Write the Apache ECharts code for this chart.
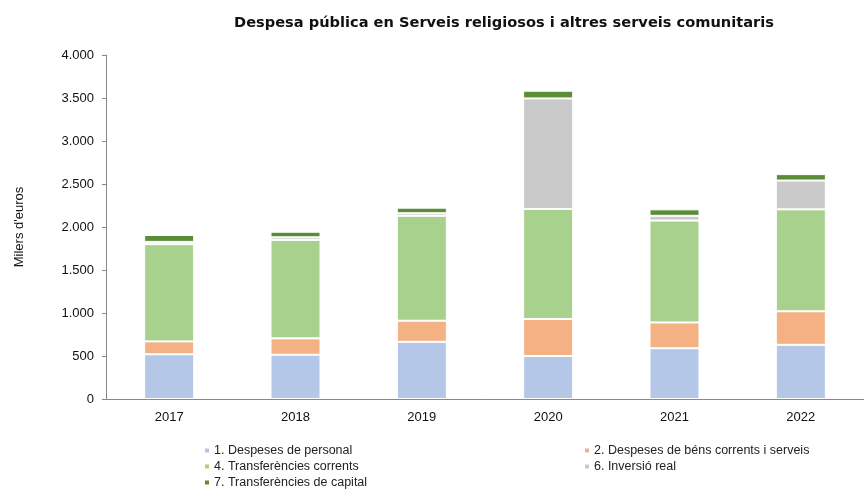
<!DOCTYPE html>
<html>
<head>
<meta charset="utf-8">
<script src="https://cdn.jsdelivr.net/npm/echarts@6/dist/echarts.min.js"></script>
<style>
  html, body { margin: 0; padding: 0; background: #fff; }
  #main { width: 864px; height: 490px; }
</style>
</head>
<body>
<div id="main"></div>
<script>
// dades (milers d'euros)
var years = ['2017', '2018', '2019', '2020', '2021', '2022'];
var personal = [520, 515, 665, 500, 590, 630];
var bens = [150, 190, 245, 430, 300, 390];
var transfCorrents = [1130, 1145, 1220, 1280, 1185, 1185];
var inversio = [27, 30, 30, 1285, 55, 335];
var transfCapital = [80, 65, 65, 90, 75, 75];

var names = [
  '1. Despeses de personal',
  '2. Despeses de béns corrents i serveis',
  '4. Transferències corrents',
  '6. Inversió real',
  '7. Transferències de capital'
];
var colors = ['#B4C7E7', '#F4B183', '#A9D18E', '#C9C9C9', '#5B8C3A'];
var values = [personal, bens, transfCorrents, inversio, transfCapital];
// posició de cada entrada de llegenda [left, top]
var legendPos = [[203, 444], [583, 444], [203, 460], [583, 460], [203, 476]];

var chart = echarts.init(document.getElementById('main'), null, { renderer: 'canvas' });

function fmt(v) {
  return String(v).replace(/\B(?=(\d{3})+(?!\d))/g, '.');
}

var series = names.map(function (n, i) {
  return {
    name: n,
    type: 'bar',
    stack: 'total',
    barWidth: 50,
    itemStyle: { color: colors[i], borderColor: '#fff', borderWidth: 1 },
    data: values[i]
  };
});

var legends = names.map(function (n, i) {
  return {
    data: [n],
    left: legendPos[i][0],
    top: legendPos[i][1],
    padding: 0,
    itemWidth: 6,
    itemHeight: 6,
    icon: 'rect',
    textStyle: { fontFamily: 'Liberation Sans', fontSize: 12.5, color: '#222', padding: [0, 0, 0, -1] }
  };
});

var option = {
  backgroundColor: '#fff',
  animation: false,
  color: colors,
  title: {
    text: 'Despesa pública en Serveis religiosos i altres serveis comunitaris',
    left: 499,
    textAlign: 'center',
    top: 11,
    textStyle: { fontFamily: 'DejaVu Sans', fontWeight: 'bold', fontSize: 14.6, color: '#111' }
  },
  legend: legends,
  grid: { left: 106, top: 55, width: 759, height: 344, containLabel: false },
  xAxis: {
    type: 'category',
    data: years,
    axisLine: { lineStyle: { color: '#888' } },
    axisTick: { alignWithLabel: false, length: 5, lineStyle: { color: '#888' } },
    axisLabel: { fontFamily: 'Liberation Sans', fontSize: 13, color: '#111', margin: 12 }
  },
  yAxis: {
    type: 'value',
    min: 0,
    max: 4000,
    interval: 500,
    name: "Milers d'euros",
    nameLocation: 'middle',
    nameGap: 80,
    nameTextStyle: { fontFamily: 'Liberation Sans', fontSize: 13, color: '#111' },
    axisLine: { show: true, lineStyle: { color: '#888' } },
    axisTick: { show: true, inside: false, length: 4, lineStyle: { color: '#888' } },
    splitLine: { show: false },
    axisLabel: { fontFamily: 'Liberation Sans', fontSize: 13, color: '#111', margin: 12, formatter: fmt }
  },
  series: series
};

chart.setOption(option);
</script>
</body>
</html>
